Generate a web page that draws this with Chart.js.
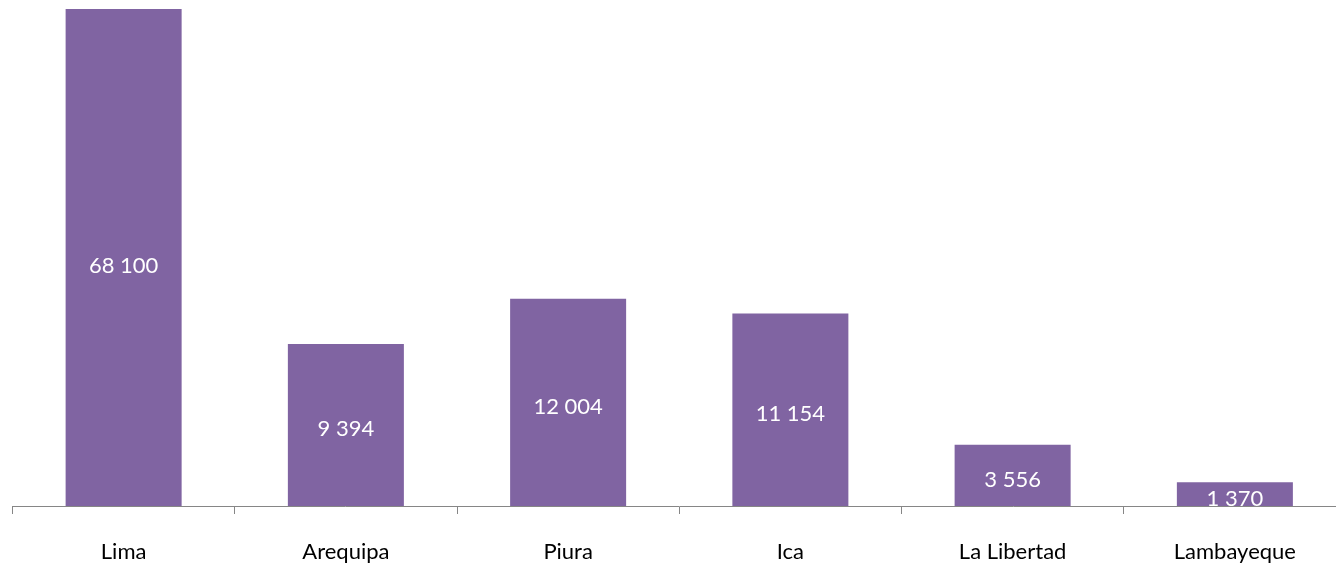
<!DOCTYPE html>
<html>
<head>
<meta charset="utf-8">
<script src="https://cdn.jsdelivr.net/npm/chart.js@4.4.1/dist/chart.umd.min.js"></script>
<style>
    html, body { margin: 0; padding: 0; background: #ffffff; overflow: hidden; }
    #wrap { position: relative; width: 1350px; height: 563px; }
</style>
</head>
<body>
<div id="wrap"><canvas id="regionChart"></canvas></div>
<script>
// Datos del gráfico
const regiones = ['Lima', 'Arequipa', 'Piura', 'Ica', 'La Libertad', 'Lambayeque'];
const valores = [68100, 9394, 12004, 11154, 3556, 1370];
const maxEje = 28800; // el eje corta la barra de Lima

const purple = '#8064A2';
const axisGrey = '#868686';

// Formato con espacio como separador de miles
function formato(n) {
    return String(n).replace(/\B(?=(\d{3})+(?!\d))/g, ' ');
}

// Etiquetas dentro de las barras
const etiquetasBarras = {
    id: 'etiquetasBarras',
    afterDatasetsDraw(chart) {
        const c = chart.ctx;
        const area = chart.chartArea;
        const meta = chart.getDatasetMeta(0);
        c.save();
        c.fillStyle = '#ffffff';
        c.font = '22px Lato';
        c.textAlign = 'center';
        c.textBaseline = 'alphabetic';
        meta.data.forEach(function(bar, i) {
            const cortada = bar.y < area.top;
            const top = Math.max(bar.y, area.top);
            const centro = (top + bar.base) / 2;
            c.fillText(formato(valores[i]), bar.x, centro + (cortada ? 15 : 11.5));
        });
        c.restore();
    }
};

const ctx = document.getElementById('regionChart').getContext('2d');

const regionChart = new Chart(ctx, {
    type: 'bar',
    data: {
        labels: regiones,
        datasets: [{
            data: valores,
            backgroundColor: purple,
            borderWidth: 0,
            categoryPercentage: 1,
            barPercentage: 0.522
        }]
    },
    options: {
        responsive: true,
        maintainAspectRatio: false,
        animation: false,
        layout: {
            padding: { left: 12.5, right: 4, top: 9, bottom: 0 }
        },
        plugins: {
            legend: { display: false },
            tooltip: { enabled: false }
        },
        scales: {
            x: {
                afterFit: function(scale) { scale.height = 57; },
                grid: {
                    offset: true,
                    drawOnChartArea: false,
                    tickLength: 8,
                    color: axisGrey
                },
                border: { display: true, color: axisGrey, width: 1 },
                ticks: {
                    color: '#000000',
                    padding: 25,
                    maxRotation: 0,
                    font: { family: 'Lato', size: 22 }
                }
            },
            y: {
                display: false,
                min: 0,
                max: maxEje
            }
        }
    },
    plugins: [etiquetasBarras]
});
</script>
</body>
</html>
